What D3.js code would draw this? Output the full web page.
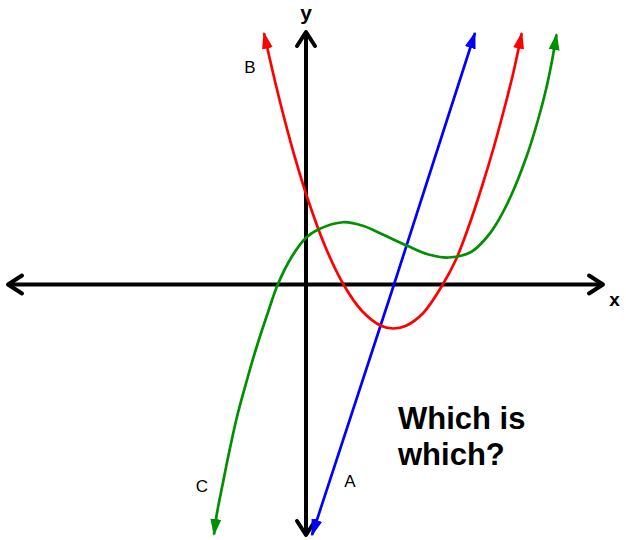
<!DOCTYPE html>
<html>
<head>
<meta charset="utf-8">
<script src="https://cdn.jsdelivr.net/npm/d3@7"></script>
<style>
  html, body { margin: 0; padding: 0; background: #fff; }
  svg { display: block; }
</style>
</head>
<body>
<svg id="chart" width="626" height="540"></svg>
<script>
// points, in grid units (1 unit = 25px)
const curveA = [[0.24, -10.02], [3.52, 0], [6.76, 10.06]];
const curveB = [
  [-1.68, 10.05], [-1.2, 7.96], [-0.84, 6.53], [-0.44, 5.07], [0, 3.63],
  [0.76, 1.54], [1.5, 0], [2.25, -1.07], [3.0, -1.65], [3.5, -1.76],
  [4.0, -1.65], [4.69, -1.14], [5.47, 0], [6.0, 1.0], [6.5, 2.3],
  [7.0, 3.8], [7.5, 5.45], [8.0, 7.3], [8.3, 8.5], [8.63, 10.05]
];
const curveC = [
  [-3.68, -10.0], [-3.57, -9.2], [-3.31, -7.87], [-3.04, -6.54], [-2.75, -5.25],
  [-2.37, -3.85], [-1.97, -2.48], [-1.51, -1.08], [-1.13, 0], [-0.57, 1.11],
  [0, 1.87], [0.49, 2.2], [1.48, 2.49], [2.3, 2.34], [3.09, 1.99],
  [4.03, 1.56], [4.9, 1.2], [5.7, 1.08], [6.6, 1.3], [7.2, 1.85],
  [7.6, 2.4], [8.2, 3.55], [8.85, 5.2], [9.3, 6.65], [9.6, 7.8],
  [9.85, 9.0], [10.02, 10.0]
];
const curveNames = ["A", "B", "C"];
const curveColors = ["#0000ff", "#ff0000", "#009000"];
// where the letter labels sit
const labelPos = [[1.76, -8.1], [-2.24, 8.45], [-4.16, -8.3]];
const xAxisExtent = [-11.92, 11.88];
const yAxisExtent = [-10.02, 10.1];
const question = ["Which is", "which?"];

const width = 626, height = 540;
const svg = d3.select("#chart");

const x = d3.scaleLinear().domain([-12, 12]).range([6, 606]);
const y = d3.scaleLinear().domain([-10, 10]).range([534.5, 34.5]);

const defs = svg.append("defs");

// open chevron for the axes
defs.append("marker")
    .attr("id", "axis-arrow")
    .attr("markerUnits", "userSpaceOnUse")
    .attr("viewBox", "0 0 20 22")
    .attr("markerWidth", 20)
    .attr("markerHeight", 22)
    .attr("refX", 17)
    .attr("refY", 11)
    .attr("orient", "auto-start-reverse")
    .style("overflow", "visible")
  .append("path")
    .attr("d", "M3,2 L17,11 L3,20")
    .attr("fill", "none")
    .attr("stroke", "#000")
    .attr("stroke-width", 4)
    .attr("stroke-linecap", "round")
    .attr("stroke-linejoin", "round");

// filled heads for the curves, one per colour
curveColors.forEach((c, i) => {
  defs.append("marker")
      .attr("id", "head-" + i)
      .attr("markerUnits", "userSpaceOnUse")
      .attr("viewBox", "0 0 17 12")
      .attr("markerWidth", 17)
      .attr("markerHeight", 12)
      .attr("refX", 15.5)
      .attr("refY", 6)
      .attr("orient", "auto-start-reverse")
    .append("path")
      .attr("d", "M0,0.5 L17,6 L0,11.5 Z")
      .attr("fill", c);
});

// axes
svg.append("line")
    .attr("x1", x(xAxisExtent[0])).attr("x2", x(xAxisExtent[1]))
    .attr("y1", y(0)).attr("y2", y(0))
    .attr("stroke", "#000").attr("stroke-width", 4)
    .attr("marker-start", "url(#axis-arrow)")
    .attr("marker-end", "url(#axis-arrow)");

svg.append("line")
    .attr("x1", x(0)).attr("x2", x(0))
    .attr("y1", y(yAxisExtent[0])).attr("y2", y(yAxisExtent[1]))
    .attr("stroke", "#000").attr("stroke-width", 4)
    .attr("marker-start", "url(#axis-arrow)")
    .attr("marker-end", "url(#axis-arrow)");

svg.append("text")
    .attr("x", x(0)).attr("y", 20)
    .attr("text-anchor", "middle")
    .attr("font-family", "Liberation Sans, Arial, sans-serif")
    .attr("font-weight", "bold")
    .attr("font-size", 21)
    .text("y");

svg.append("text")
    .attr("x", 614.5).attr("y", 305.5)
    .attr("text-anchor", "middle")
    .attr("font-family", "Liberation Sans, Arial, sans-serif")
    .attr("font-weight", "bold")
    .attr("font-size", 19)
    .text("x");

// curves
const smooth = d3.line()
    .x(d => x(d[0]))
    .y(d => y(d[1]))
    .curve(d3.curveCatmullRom.alpha(0.5));
const straight = d3.line()
    .x(d => x(d[0]))
    .y(d => y(d[1]));

[curveA, curveB, curveC].forEach((pts, i) => {
  svg.append("path")
      .datum(pts)
      .attr("d", i === 0 ? straight : smooth)
      .attr("fill", "none")
      .attr("stroke", curveColors[i])
      .attr("stroke-width", 2.7)
      .attr("marker-start", `url(#head-${i})`)
      .attr("marker-end", `url(#head-${i})`);
});

svg.selectAll(".curve-label")
  .data(curveNames)
  .enter().append("text")
    .attr("class", "curve-label")
    .attr("x", (d, i) => x(labelPos[i][0]))
    .attr("y", (d, i) => y(labelPos[i][1]))
    .attr("text-anchor", "middle")
    .attr("font-family", "Liberation Sans, Arial, sans-serif")
    .attr("font-size", 17)
    .text(d => d);

svg.append("text")
    .attr("x", 398)
    .attr("y", 429)
    .attr("font-family", "Liberation Sans, Arial, sans-serif")
    .attr("font-weight", "bold")
    .attr("font-size", 31)
    .selectAll("tspan")
    .data(question)
    .enter().append("tspan")
      .attr("x", 398)
      .attr("dy", (d, i) => i === 0 ? 0 : 36)
      .text(d => d);
</script>
</body>
</html>
